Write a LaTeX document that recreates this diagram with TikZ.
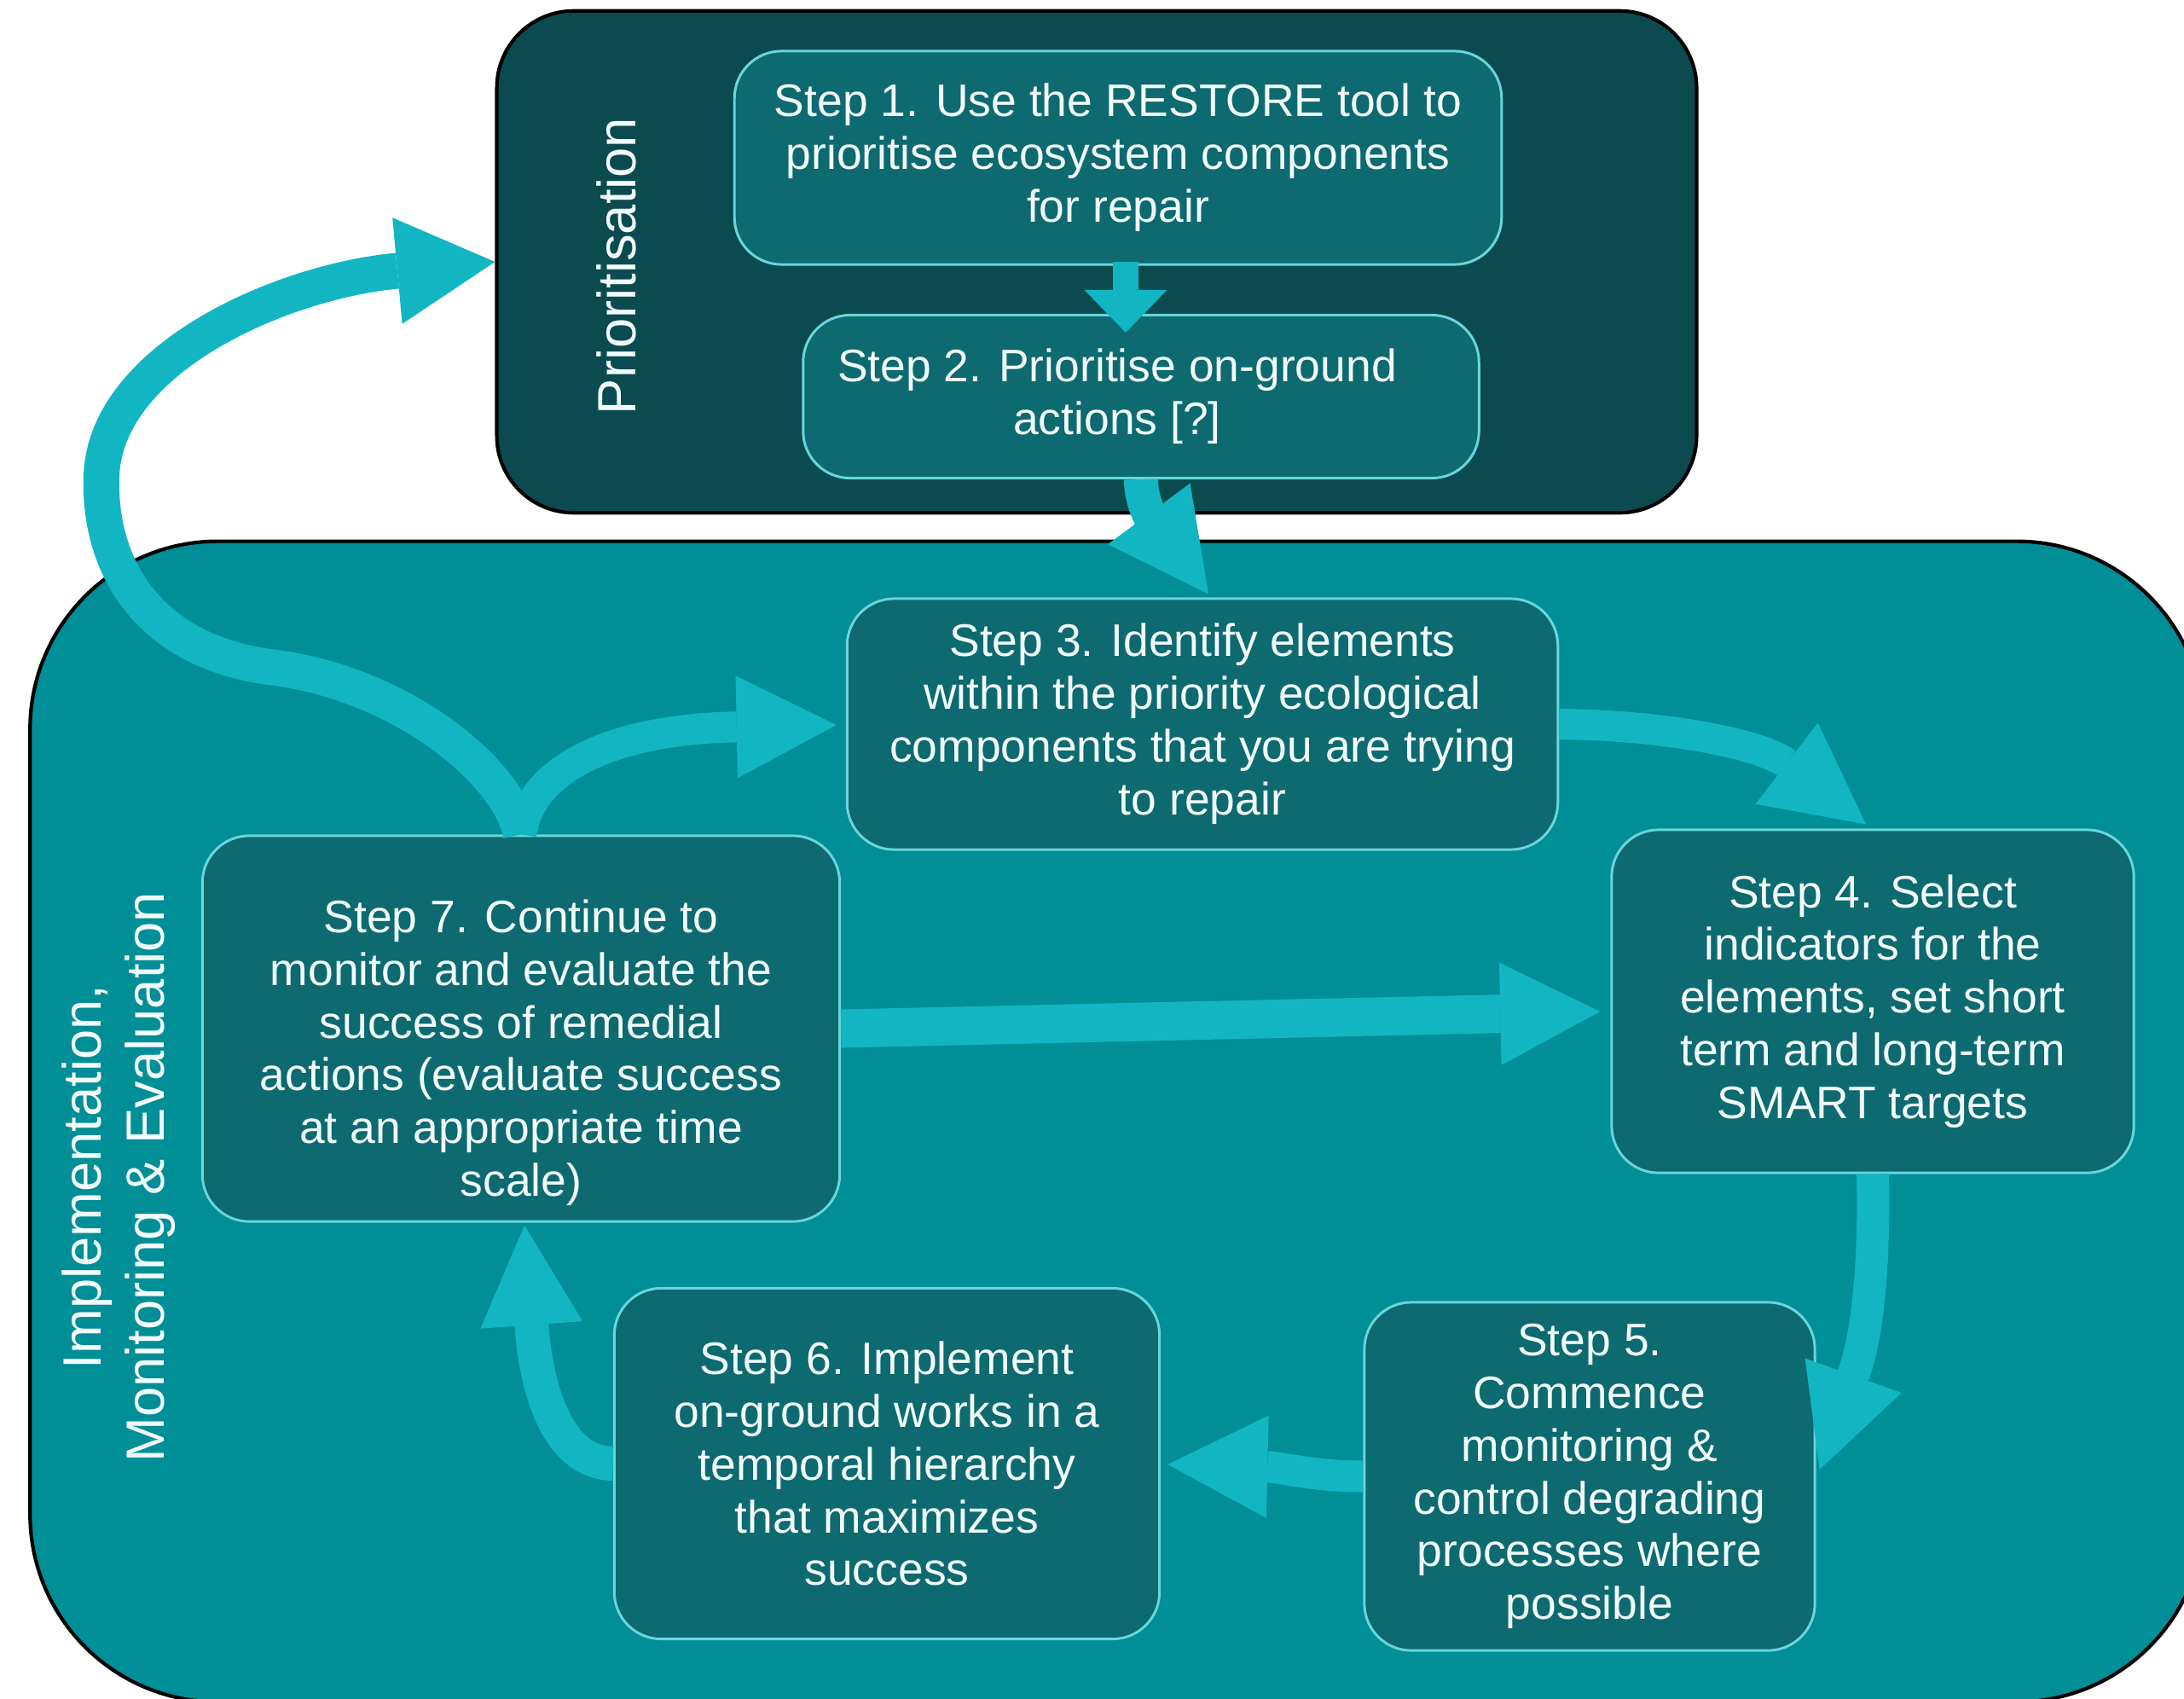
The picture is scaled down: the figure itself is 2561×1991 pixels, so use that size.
\documentclass[tikz,border=0pt]{standalone}
\usepackage{fontspec}
\setmainfont{Liberation Sans}
\usetikzlibrary{arrows.meta,calc}
\definecolor{priofill}{HTML}{0B4B50}
\definecolor{implfill}{HTML}{008E97}
\definecolor{stepfill}{HTML}{0C6A70}
\definecolor{stepline}{HTML}{6AD4DC}
\definecolor{flowcol}{HTML}{12B6C2}
\definecolor{steptext}{HTML}{F2FBFB}
\tikzset{stepbox/.style={draw=stepline, line width=0.85pt, fill=stepfill,
  rounded corners=0.55cm, text=steptext, align=center, inner sep=0pt,
  font=\fontsize{15.2}{17.6}\selectfont}}
\tikzset{phasebox/.style={draw=black, line width=1.2pt, inner sep=0pt}}
\tikzset{phaselabel/.style={text=steptext, rotate=90, align=center,
  font=\fontsize{18}{21}\selectfont}}
\tikzset{flowarrow/.style={draw=flowcol, line width=0.4cm,
  -{Triangle[width=1.2cm,length=1.17cm,line width=0pt]}}}
\tikzset{shortflow/.style={draw=flowcol, line width=0.3cm,
  -{Triangle[width=0.97cm,length=0.5cm,line width=0pt]}}}

\begin{document}
\begin{tikzpicture}[x=0.01cm, y=-0.01cm]
      \useasboundingbox (0,0) rectangle (2561,1991);
      \clip (0,0) rectangle (2561,1991);

      \node [phasebox, fill=implfill, rounded corners=2.2cm, minimum width=25.48cm, minimum height=13.6cm] (impl) at (1310,1315) {};
      \node [phasebox, fill=priofill, rounded corners=0.9cm, minimum width=14.06cm, minimum height=5.88cm] (prio) at (1286,307) {};
      \node [phaselabel] (priolabel) at (723,312) {Prioritisation};
      \node [phaselabel] (impllabel) at (139,1380) {Implementation,\\Monitoring \& Evaluation};

      \node [stepbox, minimum width=8.99cm, minimum height=2.5cm] (step1) at (1311,185) {Step 1. Use the RESTORE tool to\\prioritise ecosystem components\\for repair};
      \node [stepbox, minimum width=7.92cm, minimum height=1.91cm] (step2) at (1338,465) {Step 2. Prioritise on-ground\hspace*{0.56cm}\\actions [?]\hspace*{0.56cm}};
      \node [stepbox, minimum width=8.33cm, minimum height=2.94cm] (step3) at (1410,849) {Step 3. Identify elements\\within the priority ecological\\components that you are trying\\to repair};
      \node [stepbox, minimum width=6.12cm, minimum height=4.02cm] (step4) at (2196,1174) {Step 4. Select\\indicators for the\\elements, set short\\term and long-term\\SMART targets};
      \node [stepbox, minimum width=5.28cm, minimum height=4.08cm] (step5) at (1864,1731) {Step 5.\\Commence\\monitoring \&\\control degrading\\processes where\\possible};
      \node [stepbox, minimum width=6.39cm, minimum height=4.11cm] (step6) at (1040,1716) {Step 6. Implement\\on-ground works in a\\temporal hierarchy\\that maximizes\\success};
      \node [stepbox, minimum width=7.47cm, minimum height=4.52cm] (step7) at (611,1206) {\rule{0pt}{0.95cm}Step 7. Continue to\\monitor and evaluate the\\success of remedial\\actions (evaluate success\\at an appropriate time\\scale)};

      \draw [shortflow] ($(step1.south)+(9,-5)$) -- ($(step2.north)+(-18,22)$);
      \draw [flowarrow] (step2.south) .. controls +(0,45) and ($(step3.north)+(-36,-62)$) .. ($(step3.north)+(7,-4)$);
      \draw [flowarrow, line width=0.42cm, -{Triangle[width=1.25cm,length=1.15cm,line width=0pt]}] (step7.north) .. controls (597,905) and (470,800) .. (316,782) .. controls (170,762) and (115,660) .. (119,557) .. controls (125,420) and (330,330) .. (prio.west);
      \draw [flowarrow, line width=0.36cm] (step7.north) .. controls (622,900) and (720,855) .. ($(step3.west)+(-11,1)$);
      \draw [flowarrow, line width=0.36cm] (step3.east) .. controls (1950,850) and (2065,872) .. ($(step4.north)+(-8,-5)$);
      \draw [flowarrow, line width=0.38cm] (step4.south) .. controls (2198,1470) and (2192,1560) .. ($(step5.east)+(4,-8)$);
      \draw [flowarrow, line width=0.37cm] (step5.west) .. controls (1540,1731) and (1500,1720) .. ($(step6.east)+(8,1)$);
      \draw [flowarrow] (step6.west) .. controls (650,1715) and (628,1620) .. ($(step7.south)+(4,3)$);
      \draw [flowarrow, line width=0.45cm] (step7.east) -- ($(step4.west)+(-12,12)$);
    \end{tikzpicture}
\end{document}
